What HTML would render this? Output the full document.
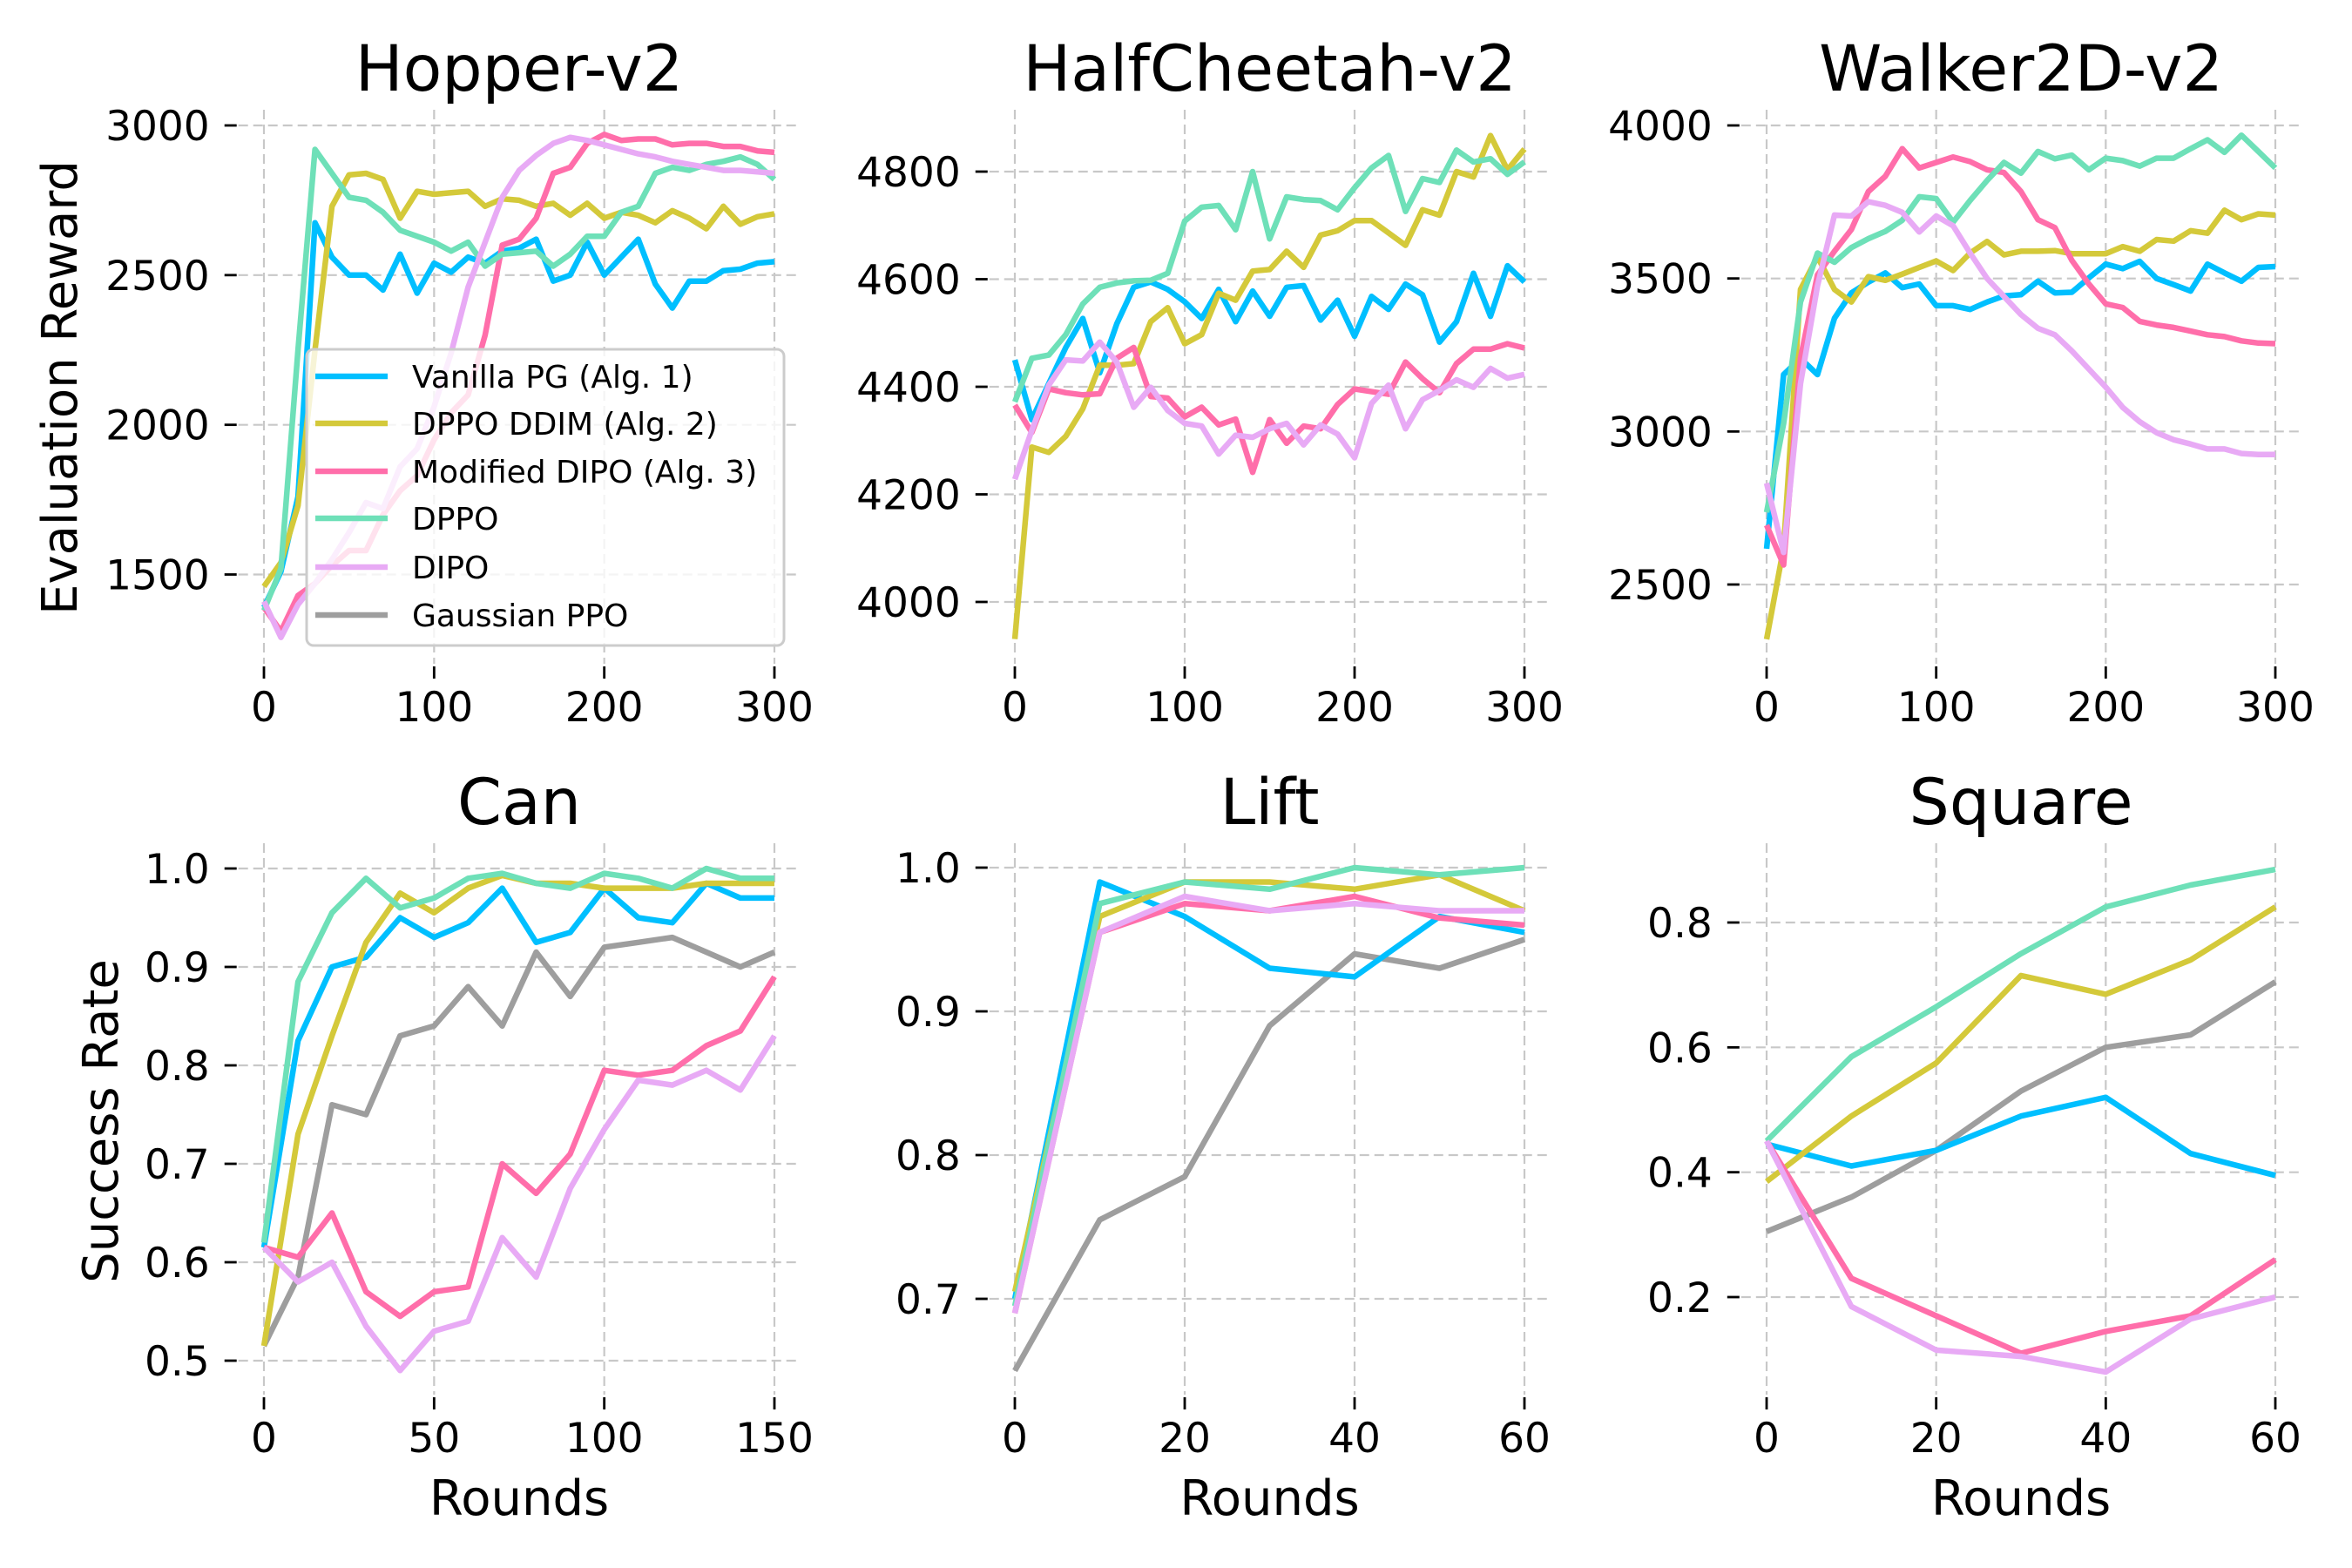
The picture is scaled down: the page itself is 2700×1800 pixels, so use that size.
<!DOCTYPE html>
<html><head><meta charset="utf-8">
<style>
html,body{margin:0;padding:0;background:#fff;}
svg{display:block;font-family:"DejaVu Sans","Liberation Sans",sans-serif;}
</style></head>
<body>
<svg id="chart" width="2700" height="1800" viewBox="0 0 2700 1800" xmlns="http://www.w3.org/2000/svg">
<rect width="2700" height="1800" fill="#fff"/>
</svg>
<script>
// ===== Data =====
const seriesNames = ["Vanilla PG (Alg. 1)","DPPO DDIM (Alg. 2)","Modified DIPO (Alg. 3)","DPPO","DIPO","Gaussian PPO"];
const seriesColors = ["#00bfff","#d4c93a","#ff6eaa","#6ee0b8","#e8aaf5","#9e9e9e"];

const roundsMujoco = [0,10,20,30,40,50,60,70,80,90,100,110,120,130,140,150,160,170,180,190,200,210,220,230,240,250,260,270,280,290,300];
const roundsCan = [0,10,20,30,40,50,60,70,80,90,100,110,120,130,140,150];
const roundsShort = [0,10,20,30,40,50,60];

const hopperVanilla = [1390,1510,1760,2675,2560,2500,2500,2450,2570,2440,2540,2510,2560,2540,2580,2590,2620,2480,2500,2610,2500,2560,2620,2470,2390,2480,2480,2515,2520,2540,2545];
const hopperDDIM = [1460,1540,1730,2250,2730,2835,2840,2820,2690,2780,2770,2775,2780,2730,2755,2750,2730,2740,2700,2740,2690,2710,2700,2675,2715,2690,2655,2730,2670,2695,2705];
const hopperModDIPO = [1390,1310,1430,1470,1530,1580,1580,1700,1780,1830,1950,2040,2100,2300,2600,2620,2690,2840,2860,2940,2970,2950,2955,2955,2935,2940,2940,2930,2930,2915,2910];
const hopperDPPO = [1380,1520,2250,2920,2840,2760,2750,2710,2650,2630,2610,2580,2610,2530,2570,2575,2580,2530,2570,2630,2630,2710,2730,2840,2860,2850,2870,2880,2895,2870,2820];
const hopperDIPO = [1410,1290,1400,1470,1550,1640,1740,1720,1860,1920,2060,2240,2460,2610,2760,2850,2900,2940,2960,2950,2935,2920,2905,2895,2880,2870,2860,2850,2850,2845,2840];

const cheetahVanilla = [4450,4339,4406,4473,4527,4426,4517,4585,4595,4581,4558,4527,4581,4521,4578,4531,4585,4588,4524,4561,4494,4568,4544,4591,4571,4483,4521,4611,4531,4625,4595];
const cheetahDDIM = [3931,4288,4278,4308,4359,4440,4440,4443,4521,4547,4480,4497,4574,4561,4615,4618,4652,4622,4682,4690,4709,4709,4686,4663,4729,4719,4800,4790,4867,4803,4842];
const cheetahModDIPO = [4366,4315,4396,4389,4385,4387,4453,4473,4382,4379,4344,4362,4329,4340,4241,4339,4295,4327,4322,4367,4396,4391,4386,4446,4415,4389,4443,4470,4470,4480,4472];
const cheetahDPPO = [4372,4453,4459,4497,4554,4585,4593,4597,4598,4611,4708,4734,4737,4692,4800,4675,4753,4748,4746,4729,4770,4807,4830,4726,4787,4780,4840,4818,4824,4795,4818];
const cheetahDIPO = [4228,4319,4403,4450,4448,4483,4446,4362,4399,4356,4332,4327,4275,4310,4306,4322,4332,4292,4329,4312,4268,4369,4403,4322,4376,4393,4413,4399,4434,4416,4423];

const walkerVanilla = [2617,3186,3239,3186,3370,3453,3488,3518,3470,3482,3411,3411,3399,3423,3443,3447,3491,3453,3455,3502,3547,3532,3556,3500,3480,3459,3547,3518,3491,3536,3539];
const walkerDDIM = [2321,2620,3464,3571,3464,3423,3506,3494,3514,3536,3557,3526,3583,3621,3577,3589,3589,3591,3581,3581,3581,3604,3589,3627,3622,3656,3648,3723,3692,3711,3707];
const walkerModDIPO = [2694,2564,3239,3512,3589,3660,3784,3834,3924,3861,3879,3897,3882,3855,3846,3784,3692,3666,3559,3482,3417,3405,3360,3348,3340,3328,3316,3310,3296,3289,3287];
const walkerDPPO = [2736,3026,3423,3583,3553,3601,3630,3654,3690,3767,3761,3684,3755,3820,3879,3844,3915,3891,3903,3855,3893,3885,3867,3893,3893,3924,3953,3912,3968,3915,3861];
const walkerDIPO = [2831,2605,3156,3476,3707,3704,3751,3739,3716,3652,3704,3672,3583,3500,3441,3382,3337,3316,3263,3204,3145,3079,3032,2996,2973,2959,2943,2943,2928,2925,2925];

const canVanilla = [0.615,0.825,0.90,0.91,0.95,0.93,0.945,0.98,0.925,0.935,0.98,0.95,0.945,0.985,0.97,0.97];
const canDDIM = [0.515,0.73,0.83,0.925,0.975,0.955,0.98,0.993,0.985,0.985,0.98,0.98,0.98,0.985,0.985,0.985];
const canModDIPO = [0.615,0.605,0.65,0.57,0.545,0.57,0.575,0.70,0.67,0.71,0.795,0.79,0.795,0.82,0.835,0.89];
const canDPPO = [0.62,0.885,0.955,0.99,0.96,0.97,0.99,0.995,0.985,0.98,0.995,0.99,0.98,1.0,0.99,0.99];
const canDIPO = [0.615,0.58,0.60,0.535,0.49,0.53,0.54,0.625,0.585,0.675,0.735,0.785,0.78,0.795,0.775,0.83];
const canGauss = [0.515,0.585,0.76,0.75,0.83,0.84,0.88,0.84,0.915,0.87,0.92,0.925,0.93,0.915,0.90,0.915];

const liftVanilla = [0.70,0.99,0.966,0.93,0.924,0.966,0.955];
const liftDDIM = [0.705,0.966,0.99,0.99,0.985,0.995,0.97];
const liftModDIPO = [0.69,0.955,0.975,0.97,0.98,0.965,0.96];
const liftDPPO = [0.695,0.975,0.99,0.985,1.0,0.995,1.0];
const liftDIPO = [0.69,0.955,0.98,0.97,0.975,0.97,0.97];
const liftGauss = [0.65,0.755,0.785,0.89,0.94,0.93,0.95];

const squareVanilla = [0.445,0.41,0.435,0.49,0.52,0.43,0.395];
const squareDDIM = [0.385,0.49,0.575,0.715,0.685,0.74,0.825];
const squareModDIPO = [0.45,0.23,0.17,0.11,0.145,0.17,0.26];
const squareDPPO = [0.45,0.585,0.665,0.75,0.825,0.86,0.885];
const squareDIPO = [0.45,0.185,0.115,0.105,0.08,0.165,0.20];
const squareGauss = [0.305,0.36,0.435,0.53,0.60,0.62,0.705];

const ticksMujocoX = [0,100,200,300];
const ticksCanX = [0,50,100,150];
const ticksShortX = [0,20,40,60];
const ticksHopperY = [1500,2000,2500,3000];
const ticksCheetahY = [4000,4200,4400,4600,4800];
const ticksWalkerY = [2500,3000,3500,4000];
const ticksCanY = [0.5,0.6,0.7,0.8,0.9,1.0];
const ticksLiftY = [0.7,0.8,0.9,1.0];
const ticksSquareY = [0.2,0.4,0.6,0.8];
const ticksCanYLabels = ["0.5","0.6","0.7","0.8","0.9","1.0"];
const ticksLiftYLabels = ["0.7","0.8","0.9","1.0"];
const ticksSquareYLabels = ["0.2","0.4","0.6","0.8"];

// ===== Layout =====
const NS = "http://www.w3.org/2000/svg";
const svg = document.getElementById("chart");
function mk(tag, attrs, parent){
  const e = document.createElementNS(NS, tag);
  for (const k in attrs) e.setAttribute(k, attrs[k]);
  (parent||svg).appendChild(e);
  return e;
}

const panels = [
  {key:"hopper", title:"Hopper-v2", x:roundsMujoco, xd:[0,300], px:[303,889], yd:[1500,3000], py:[659.5,144], top:126, bot:762, xt:ticksMujocoX, yt:ticksHopperY, ytl:null,
   series:[hopperVanilla,hopperDDIM,hopperModDIPO,hopperDPPO,hopperDIPO,null]},
  {key:"halfcheetah", title:"HalfCheetah-v2", x:roundsMujoco, xd:[0,300], px:[1165,1750], yd:[4000,4800], py:[691,197], top:126, bot:762, xt:ticksMujocoX, yt:ticksCheetahY, ytl:null,
   series:[cheetahVanilla,cheetahDDIM,cheetahModDIPO,cheetahDPPO,cheetahDIPO,null]},
  {key:"walker2d", title:"Walker2D-v2", x:roundsMujoco, xd:[0,300], px:[2028,2612], yd:[2500,4000], py:[671,144], top:126, bot:762, xt:ticksMujocoX, yt:ticksWalkerY, ytl:null,
   series:[walkerVanilla,walkerDDIM,walkerModDIPO,walkerDPPO,walkerDIPO,null]},
  {key:"can", title:"Can", x:roundsCan, xd:[0,150], px:[303,889], yd:[0.5,1.0], py:[1562,997], top:968, bot:1601, xt:ticksCanX, yt:ticksCanY, ytl:ticksCanYLabels,
   series:[canVanilla,canDDIM,canModDIPO,canDPPO,canDIPO,canGauss]},
  {key:"lift", title:"Lift", x:roundsShort, xd:[0,60], px:[1165,1750], yd:[0.7,1.0], py:[1491,996], top:968, bot:1601, xt:ticksShortX, yt:ticksLiftY, ytl:ticksLiftYLabels,
   series:[liftVanilla,liftDDIM,liftModDIPO,liftDPPO,liftDIPO,liftGauss]},
  {key:"square", title:"Square", x:roundsShort, xd:[0,60], px:[2028,2612], yd:[0.2,0.8], py:[1489,1059], top:968, bot:1601, xt:ticksShortX, yt:ticksSquareY, ytl:ticksSquareYLabels,
   series:[squareVanilla,squareDDIM,squareModDIPO,squareDPPO,squareDIPO,squareGauss]}
];

const drawOrder = [5,0,1,2,3,4];

panels.forEach(function(p, pi){
  const sx = v => p.px[0] + (v - p.xd[0]) * (p.px[1]-p.px[0]) / (p.xd[1]-p.xd[0]);
  const sy = v => p.py[0] + (v - p.yd[0]) * (p.py[1]-p.py[0]) / (p.yd[1]-p.yd[0]);
  const span = p.px[1]-p.px[0];
  const left = p.px[0] - span*0.05, right = p.px[1] + span*0.05;
  const g = mk("g", {});
  
  

  p.xt.forEach(function(t){
    const l = mk("line", {x1:sx(t), x2:sx(t), y1:p.top, y2:p.bot, stroke:"#c8c8c8", "stroke-width":2.2, "stroke-dasharray":"11,6"}, g);
    
    
    const tk = mk("line", {x1:sx(t), x2:sx(t), y1:p.bot+3, y2:p.bot+17, stroke:"#000", "stroke-width":2.8}, g);
    
    
    const tx = mk("text", {x:sx(t), y:p.bot+66, "text-anchor":"middle", "font-size":47, fill:"#000"}, g);
    tx.textContent = String(t);
    
    
  });
  p.yt.forEach(function(t, i){
    const y = sy(t);
    const l = mk("line", {x1:left, x2:right, y1:y, y2:y, stroke:"#c8c8c8", "stroke-width":2.2, "stroke-dasharray":"11,6"}, g);
    
    
    const tk = mk("line", {x1:left-16, x2:left-2, y1:y, y2:y, stroke:"#000", "stroke-width":2.8}, g);
    
    
    const tx = mk("text", {x:left-33, y:y+17, "text-anchor":"end", "font-size":47, fill:"#000"}, g);
    tx.textContent = p.ytl ? p.ytl[i] : String(t);
    
    
  });

  const ti = mk("text", {x:(left+right)/2, y:p.top-22, "text-anchor":"middle", "font-size":73, fill:"#000"}, g);
  ti.textContent = p.title;
  
  

  drawOrder.forEach(function(si){
    const data = p.series[si];
    if (!data) return;
    const pts = data.map((v,i) => sx(p.x[i]).toFixed(1) + "," + sy(v).toFixed(1)).join(" ");
    const pl = mk("polyline", {points:pts, fill:"none", stroke:seriesColors[si], "stroke-width":6.5, "stroke-linejoin":"round"}, g);
    
    
  });

  if (pi >= 3) {
    const xl = mk("text", {x:(left+right)/2, y:1739, "text-anchor":"middle", "font-size":56, fill:"#000"}, g);
    xl.textContent = "Rounds";
    
    
  }
});

const yl1 = mk("text", {x:0, y:0, transform:"translate(88,445) rotate(-90)", "text-anchor":"middle", "font-size":56, fill:"#000"});
yl1.textContent = "Evaluation Reward";


const yl2 = mk("text", {x:0, y:0, transform:"translate(135,1287) rotate(-90)", "text-anchor":"middle", "font-size":56, fill:"#000"});
yl2.textContent = "Success Rate";



const lg = mk("g", {});


const box = mk("rect", {x:352, y:401, width:548, height:340, rx:8, ry:8, fill:"#fff", "fill-opacity":0.8, stroke:"#cccccc", "stroke-width":3}, lg);


const legendRows = [432,486,541,595,651,706];
seriesNames.forEach(function(n, i){
  const y = legendRows[i];
  const h = mk("line", {x1:362, x2:445, y1:y, y2:y, stroke:seriesColors[i], "stroke-width":6.5}, lg);
  
  
  const t = mk("text", {x:473, y:y+13, "font-size":36, fill:"#000"}, lg);
  t.textContent = n;
  
  
});
</script>
</body></html>
